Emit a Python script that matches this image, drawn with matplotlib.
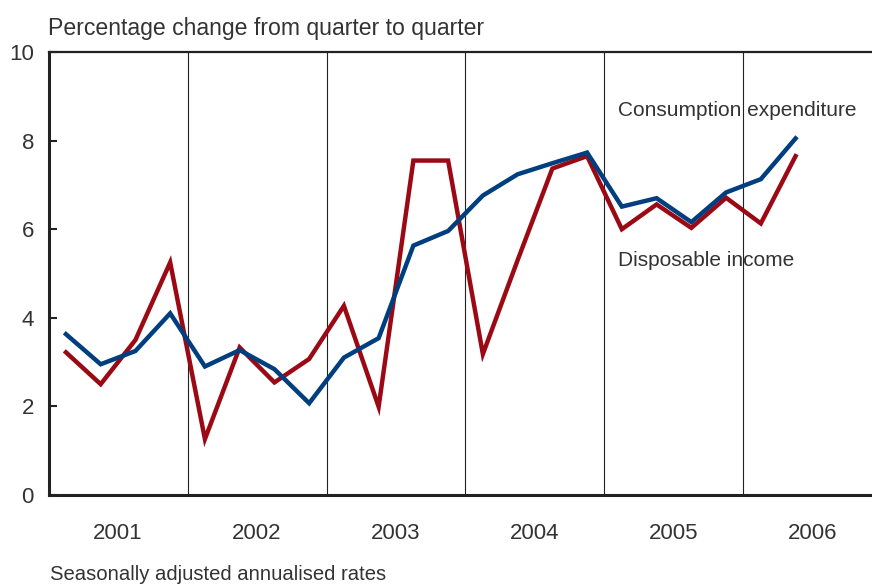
import numpy as np
import matplotlib
matplotlib.use('Agg')
import matplotlib.pyplot as plt

# data (quarterly, 2001Q1 - 2006Q2)
years = ['2001', '2002', '2003', '2004', '2005', '2006']
income = [3.22, 2.50, 3.50, 5.25,
          1.26, 3.33, 2.54, 3.07,
          4.27, 1.99, 7.55, 7.55,
          3.18, 5.30, 7.37, 7.65,
          6.00, 6.56, 6.03, 6.71,
          6.13, 7.65]
consumption = [3.63, 2.95, 3.25, 4.10,
               2.90, 3.27, 2.84, 2.07,
               3.10, 3.54, 5.63, 5.96,
               6.76, 7.24, 7.49, 7.73,
               6.51, 6.70, 6.16, 6.83,
               7.13, 8.05]

red = '#9b0a14'
blue = '#003f7f'
txt = '#333333'
plt.rcParams['font.family'] = ['Liberation Sans', 'DejaVu Sans']

fig = plt.figure(figsize=(8.72, 5.85), dpi=100)
ax = fig.add_axes([0.0557, 0.154, 0.9443, 0.757])

xq = np.arange(len(income)) + 0.5
# year separators
for k in range(1, len(years)):
    ax.axvline(4 * k, color='#222222', lw=0.8, zorder=1)

ax.plot(xq, income, color=red, lw=3.2, solid_joinstyle='miter', zorder=3)
ax.plot(xq, consumption, color=blue, lw=3.2, solid_joinstyle='miter', zorder=4)

ax.set_xlim(0, 23.7)
ax.set_ylim(0, 10)
ax.set_yticks([0, 2, 4, 6, 8, 10])
ax.set_yticklabels(['0', '2', '4', '6', '8', '10'])
ax.tick_params(axis='y', direction='in', length=6, width=1.5, color='#222222',
               labelsize=16, labelcolor=txt, pad=10.5)
ax.set_xticks([4 * i + 2 for i in range(len(years))])
ax.set_xticklabels(years)
ax.tick_params(axis='x', length=0, labelsize=16, labelcolor=txt, pad=20)

ax.spines['right'].set_visible(False)
ax.spines['left'].set_linewidth(2.2)
ax.spines['bottom'].set_linewidth(2.2)
ax.spines['top'].set_linewidth(1.6)
for s in ['left', 'bottom', 'top']:
    ax.spines[s].set_color('#222222')

ax.text(16.38, 8.67, 'Consumption expenditure', fontsize=15, color=txt, va='center')
ax.text(16.38, 5.3, 'Disposable income', fontsize=15, color=txt, va='center')

fig.text(48 / 872, 1 - 28 / 585, 'Percentage change from quarter to quarter',
         fontsize=16.6, color=txt, va='center')
fig.text(50 / 872, 1 - 575 / 585, 'Seasonally adjusted annualised rates',
         fontsize=14.6, color=txt, va='center')

fig.savefig('out.png', dpi=100)
